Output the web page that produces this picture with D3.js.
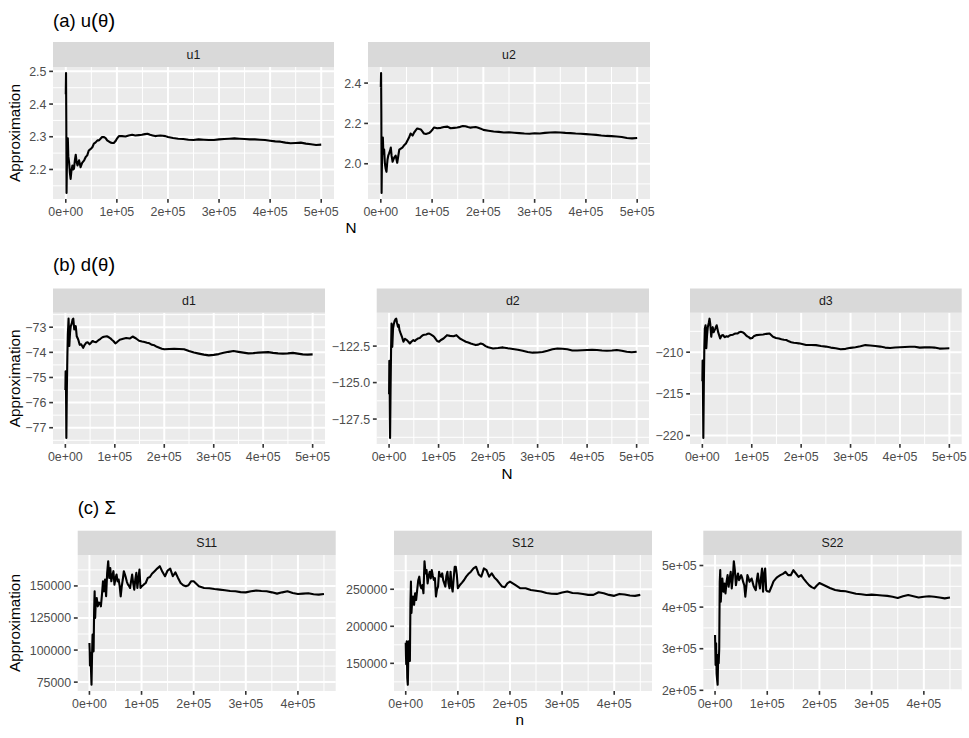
<!DOCTYPE html>
<html><head><meta charset="utf-8">
<script src="https://cdn.jsdelivr.net/npm/d3@7"></script>
<style>body{margin:0;background:#fff}svg{display:block}</style>
</head><body><svg id="chart" width="969" height="738"></svg>
<script>
// ---------- DATA ----------
// N (thousands) for rows (a) and (b)
const nAB = [0,0.5,1,1.5,2,3,4,5,
  6.5,8,9.5,11,13,14.5,16,18,19.5,21,23,
  26,29,32,36,39,42,45,49,52,55,58,62,65,68,71,75,78,81,84,88,91,94,97,101,104,
  110,117,123,130,136,143,149,155,
  160,165,170,175,180,185,190,195,200,
  210,220,230,240,250,260,270,280,290,300,310,320,330,340,350,360,370,380,390,400,410,420,430,440,450,460,470,480,490,500];
const u1 = [2.43,2.495,2.35,2.128,2.19,2.26,2.295,2.24,
  2.222,2.19,2.171,2.195,2.212,2.20,2.202,2.23,2.245,2.225,2.212,
  2.228,2.207,2.22,2.228,2.238,2.243,2.258,2.263,2.268,2.279,2.282,2.289,2.289,2.294,2.299,2.299,2.296,2.289,2.286,2.282,2.281,2.281,2.286,2.296,2.302,
  2.302,2.301,2.304,2.306,2.304,2.305,2.306,2.308,
  2.309,2.306,2.304,2.302,2.303,2.304,2.303,2.302,2.299,
  2.296,2.294,2.293,2.291,2.290,2.292,2.291,2.290,2.290,2.292,
  2.293,2.294,2.295,2.294,2.293,2.292,2.292,2.291,2.290,2.288,
  2.286,2.285,2.282,2.280,2.281,2.282,2.279,2.277,2.275,2.276];
const u2 = [2.38,2.45,2.25,1.855,1.97,2.08,2.13,2.05,
  2.07,2.00,1.975,1.96,2.02,2.04,2.05,2.065,2.08,2.04,2.01,
  2.03,2.04,2.005,2.07,2.075,2.08,2.09,2.10,2.115,2.13,2.15,2.14,2.155,2.165,2.175,2.172,2.17,2.16,2.15,2.148,2.15,2.152,2.158,2.17,2.18,
  2.176,2.178,2.182,2.184,2.176,2.178,2.18,2.183,
  2.187,2.186,2.182,2.179,2.181,2.182,2.178,2.174,2.168,
  2.164,2.16,2.158,2.155,2.156,2.154,2.152,2.15,2.149,2.151,
  2.15,2.153,2.155,2.156,2.155,2.153,2.152,2.15,2.149,2.147,
  2.145,2.143,2.14,2.138,2.137,2.135,2.133,2.128,2.126,2.128];
const d1 = [-75.5,-74.75,-74.8,-76.0,-77.41,-75.5,-74.2,-73.3,
  -72.66,-73.75,-73.2,-72.96,-72.85,-72.7,-72.66,-73.09,-72.95,-72.96,-73.36,
  -73.49,-73.7,-73.68,-73.82,-73.7,-73.62,-73.6,-73.68,-73.62,-73.55,-73.58,-73.6,-73.55,-73.5,-73.46,-73.4,-73.38,-73.37,-73.36,-73.4,-73.44,-73.5,-73.55,-73.64,-73.6,
  -73.5,-73.46,-73.43,-73.45,-73.37,-73.45,-73.54,-73.57,
  -73.59,-73.62,-73.64,-73.7,-73.72,-73.78,-73.82,-73.86,-73.88,
  -73.87,-73.86,-73.87,-73.88,-73.95,-74.01,-74.05,-74.09,-74.12,-74.1,
  -74.07,-74.02,-73.98,-73.95,-73.98,-74.01,-74.04,-74.03,-74.01,-74.0,
  -73.99,-74.02,-74.04,-74.05,-74.04,-74.02,-74.05,-74.08,-74.09,-74.08];
const d2 = [-125.8,-123.5,-124.2,-127.0,-128.8,-125.5,-122.8,-120.95,
  -122.55,-121.3,-121.0,-120.8,-120.65,-120.62,-120.9,-121.18,-121.05,-121.41,-121.6,
  -121.86,-122.2,-122.0,-122.09,-122.2,-122.32,-122.2,-122.09,-122.15,-122.05,-121.98,-121.95,-121.85,-121.75,-121.72,-121.7,-121.66,-121.64,-121.7,-121.78,-121.86,-122.0,-122.15,-122.2,-122.1,
  -121.98,-121.75,-121.8,-121.82,-121.75,-121.98,-122.09,-122.2,
  -122.25,-122.32,-122.38,-122.43,-122.4,-122.32,-122.38,-122.5,-122.58,
  -122.66,-122.63,-122.59,-122.65,-122.7,-122.75,-122.82,-122.9,-122.95,-122.94,
  -122.9,-122.82,-122.72,-122.66,-122.68,-122.72,-122.8,-122.8,-122.78,-122.77,
  -122.76,-122.77,-122.8,-122.82,-122.8,-122.77,-122.82,-122.89,-122.92,-122.89];
const d3v = [-213.5,-211.0,-212.0,-216.5,-220.3,-214.0,-209.5,-207.2,
  -206.77,-209.53,-208.0,-207.0,-206.5,-205.98,-206.6,-208.15,-207.4,-207.0,-207.6,
  -207.2,-206.77,-207.6,-208.35,-208.0,-207.95,-208.2,-208.1,-208.15,-208.0,-207.95,-207.9,-207.8,-207.76,-207.76,-207.6,-207.56,-207.6,-207.7,-207.95,-208.1,-208.2,-208.35,-208.3,-208.1,
  -207.95,-207.9,-207.87,-207.8,-207.76,-208.15,-208.3,-208.35,
  -208.45,-208.5,-208.54,-208.7,-208.8,-208.86,-208.9,-208.94,-209.0,
  -209.13,-209.13,-209.15,-209.25,-209.33,-209.45,-209.53,-209.65,-209.6,-209.48,
  -209.41,-209.3,-209.15,-209.2,-209.25,-209.33,-209.45,-209.5,-209.43,-209.41,
  -209.38,-209.35,-209.35,-209.45,-209.42,-209.4,-209.45,-209.57,-209.55,-209.53];

// n (thousands) for row (c)
const nC = [0,0.5,1,1.5,2,2.5,3,
  4,5,6,7,8,9,10,11,12,
  14,16,18,20,22,24,26,28,30,32,34,36,38,40,42,44,46,48,50,52,54,56,58,60,62,64,66,68,70,72,74,76,78,80,82,84,86,88,90,92,94,96,98,100,
  104,108,112,116,120,
  125,130,135,140,145,150,155,160,165,170,175,180,185,190,195,200,
  210,220,230,240,250,260,270,280,290,300,310,320,330,340,350,360,370,380,390,400,410,420,430,440,450];
const S11 = [105500,100000,88000,92000,98000,97000,85000,
  72900,95000,112000,105000,99000,130000,145800,125000,136000,
  140600,134100,137000,136700,134100,143000,153600,145800,155000,142000,
  160000,169300,156250,164000,153600,158000,161500,151000,156000,158900,
  153600,155000,150000,141900,149700,155000,161500,159000,156250,153000,
  151000,150000,148400,154000,158900,152000,147100,155000,160200,148400,
  156000,162800,148400,149500,
  151000,152300,156250,157000,159500,
  161500,163500,165400,161000,157550,162000,163500,157550,160500,156250,152300,150500,149700,150500,153600,153600,
  149700,148400,148200,147600,147100,146600,146000,145800,145200,145000,
  145800,146400,146000,145800,145000,144000,145000,145800,144500,143700,
  144000,144300,143500,143200,143700];
const S12 = [177700,160000,148700,165000,179900,150000,130000,
  121000,160000,179900,165000,153100,230000,260300,217900,230000,
  240200,229000,244600,235700,249100,262000,267000,255000,251300,255800,
  244600,287900,271400,275900,258000,268000,273700,264700,275900,268000,
  262500,265000,240200,250000,253600,273700,268000,267000,271400,262000,
  258000,253600,268000,273700,258000,251300,273700,255000,246900,265000,
  280400,280400,270000,251300,
  255800,259000,262500,267000,270500,
  273700,278100,280400,270000,267000,278100,275900,267000,271400,266000,262500,258000,253600,252700,258000,260300,
  255800,251300,251300,249100,248000,246900,245000,244000,243700,245500,
  246900,245000,244600,243500,242400,242400,246000,244600,242400,241100,
  243700,243000,241500,241100,242400];
const S22 = [333000,300000,261100,290000,313000,280000,240000,
  225000,213200,285100,265100,300000,460000,488800,412900,440000,
  468800,436900,456900,432900,460000,476800,448900,468800,484800,444900,
  470000,510400,488800,452900,470000,480800,464800,470000,476800,470000,
  460000,452900,424900,450000,476800,470000,460800,464800,468800,460000,
  450000,445000,440900,465000,480800,460000,444900,470000,492800,436900,
  480000,492800,440900,438000,
  436900,448900,462000,468000,472800,
  476800,480000,484800,476800,476800,488800,480800,472800,476800,468000,460000,452900,448000,444900,452000,458000,
  452000,446000,441000,439000,438000,435000,432000,431000,429000,430000,
  429000,428000,427000,425000,422000,426000,429000,426000,423000,425000,
  426000,425000,423000,421000,423000];

// tick values and labels
const xTicksAB = [0,100,200,300,400,500];
const xLabelsAB = ["0e+00","1e+05","2e+05","3e+05","4e+05","5e+05"];
const xTicksC = [0,100,200,300,400];
const xLabelsC = ["0e+00","1e+05","2e+05","3e+05","4e+05"];
const u1Ticks = [2.2,2.3,2.4,2.5], u1Labels = ["2.2","2.3","2.4","2.5"];
const u2Ticks = [2.0,2.2,2.4], u2Labels = ["2.0","2.2","2.4"];
const d1Ticks = [-77,-76,-75,-74,-73], d1Labels = ["\u221277","\u221276","\u221275","\u221274","\u221273"];
const d2Ticks = [-127.5,-125,-122.5], d2Labels = ["\u2212127.5","\u2212125.0","\u2212122.5"];
const d3Ticks = [-220,-215,-210], d3Labels = ["\u2212220","\u2212215","\u2212210"];
const S11Ticks = [75000,100000,125000,150000], S11Labels = ["75000","100000","125000","150000"];
const S12Ticks = [150000,200000,250000], S12Labels = ["150000","200000","250000"];
const S22Ticks = [200000,300000,400000,500000], S22Labels = ["2e+05","3e+05","4e+05","5e+05"];

// row titles: [prefix, argument-in-parentheses or null]
const rowTitles = [["(a) u","\u03B8"], ["(b) d","\u03B8"], ["(c) \u03A3", null]];
const rowXTitles = ["N", "N", "n"];
const yTitle = "Approximation";

// ---------- LAYOUT ----------
const FONT = '"Liberation Sans", Arial, Helvetica, sans-serif';
const rowsLayout = [
  {stripTop:42, top:67, bottom:199, titleX:53, titleY:27, xtX:351, xtY:233},
  {stripTop:288.5, top:312.7, bottom:444, titleX:53, titleY:271, xtX:507, xtY:479},
  {stripTop:530.7, top:555, bottom:691, titleX:77.7, titleY:514, xtX:519.7, xtY:725}
];
const panels = [
  {name:"u1", row:0, n:nAB, v:u1, yt:u1Ticks, yl:u1Labels, xt:xTicksAB, xl:xLabelsAB, left:53, right:334},
  {name:"u2", row:0, n:nAB, v:u2, yt:u2Ticks, yl:u2Labels, xt:xTicksAB, xl:xLabelsAB, left:368, right:650},
  {name:"d1", row:1, n:nAB, v:d1, yt:d1Ticks, yl:d1Labels, xt:xTicksAB, xl:xLabelsAB, left:53, right:325},
  {name:"d2", row:1, n:nAB, v:d2, yt:d2Ticks, yl:d2Labels, xt:xTicksAB, xl:xLabelsAB, left:376.7, right:649},
  {name:"d3", row:1, n:nAB, v:d3v, yt:d3Ticks, yl:d3Labels, xt:xTicksAB, xl:xLabelsAB, left:690, right:961.7},
  {name:"S11", row:2, n:nC, v:S11, yt:S11Ticks, yl:S11Labels, xt:xTicksC, xl:xLabelsC, left:77.7, right:335.7},
  {name:"S12", row:2, n:nC, v:S12, yt:S12Ticks, yl:S12Labels, xt:xTicksC, xl:xLabelsC, left:394, right:652},
  {name:"S22", row:2, n:nC, v:S22, yt:S22Ticks, yl:S22Labels, xt:xTicksC, xl:xLabelsC, left:703.3, right:961.7}
];

const svg = d3.select("#chart");
svg.append("rect").attr("width",969).attr("height",738).attr("fill","#fff");

function expand(arr){ const e=d3.extent(arr); const p=(e[1]-e[0])*0.05; return [e[0]-p, e[1]+p]; }
function minors(ticks, dom){
  const step = ticks[1]-ticks[0], res=[];
  for(let i=-1;i<ticks.length;i++){ const m=ticks[0]+(i+0.5)*step; if(m>dom[0]&&m<dom[1]) res.push(m); }
  return res;
}

panels.forEach(p=>{
  const R = rowsLayout[p.row];
  const x = d3.scaleLinear().domain(expand(p.n)).range([p.left,p.right]);
  const y = d3.scaleLinear().domain(expand(p.v)).range([R.bottom,R.top]);
  const g = svg.append("g");
  g.append("rect").attr("x",p.left).attr("y",R.top).attr("width",p.right-p.left).attr("height",R.bottom-R.top).attr("fill","#EBEBEB");
  minors(p.xt, x.domain()).forEach(m=>g.append("line").attr("x1",x(m)).attr("x2",x(m)).attr("y1",R.top).attr("y2",R.bottom).attr("stroke","#fff").attr("stroke-width",1));
  minors(p.yt, y.domain()).forEach(m=>g.append("line").attr("y1",y(m)).attr("y2",y(m)).attr("x1",p.left).attr("x2",p.right).attr("stroke","#fff").attr("stroke-width",1));
  p.xt.forEach(t=>g.append("line").attr("x1",x(t)).attr("x2",x(t)).attr("y1",R.top).attr("y2",R.bottom).attr("stroke","#fff").attr("stroke-width",2));
  p.yt.forEach(t=>g.append("line").attr("y1",y(t)).attr("y2",y(t)).attr("x1",p.left).attr("x2",p.right).attr("stroke","#fff").attr("stroke-width",2));
  const line = d3.line().x((d,i)=>x(p.n[i])).y(d=>y(d));
  g.append("path").datum(p.v).attr("d",line).attr("fill","none").attr("stroke","#000").attr("stroke-width",2.1).attr("stroke-linejoin","round").attr("stroke-linecap","butt");
  p.xt.forEach((t,i)=>{
    g.append("line").attr("x1",x(t)).attr("x2",x(t)).attr("y1",R.bottom).attr("y2",R.bottom+3.8).attr("stroke","#333").attr("stroke-width",1.6);
    g.append("text").attr("x",x(t)).attr("y",R.bottom+16.5).attr("text-anchor","middle").attr("font-family",FONT).attr("font-size",12.4).attr("fill","#4D4D4D").text(p.xl[i]);
  });
  p.yt.forEach((t,i)=>{
    g.append("line").attr("x1",p.left-3.8).attr("x2",p.left).attr("y1",y(t)).attr("y2",y(t)).attr("stroke","#333").attr("stroke-width",1.6);
    g.append("text").attr("x",p.left-6.6).attr("y",y(t)).attr("dy","0.36em").attr("text-anchor","end").attr("font-family",FONT).attr("font-size",12.4).attr("fill","#4D4D4D").text(p.yl[i]);
  });
  g.append("rect").attr("x",p.left).attr("y",R.stripTop).attr("width",p.right-p.left).attr("height",R.top-R.stripTop).attr("fill","#D9D9D9");
  g.append("text").attr("x",(p.left+p.right)/2).attr("y",(R.stripTop+R.top)/2).attr("dy","0.36em").attr("text-anchor","middle").attr("font-family",FONT).attr("font-size",12.4).attr("fill","#1A1A1A").text(p.name);
});

rowsLayout.forEach((R,i)=>{
  const t = svg.append("text").attr("x",R.titleX).attr("y",R.titleY).attr("font-family",FONT).attr("font-size",18.5).attr("fill","#000");
  t.append("tspan").text(rowTitles[i][0]);
  if(rowTitles[i][1]){
    t.append("tspan").attr("font-size",21).attr("dy",1).text("(");
    t.append("tspan").attr("font-size",18.5).attr("dy",-1).text(rowTitles[i][1]);
    t.append("tspan").attr("font-size",21).attr("dy",1).text(")");
  }
  svg.append("text").attr("x",R.xtX).attr("y",R.xtY).attr("text-anchor","middle").attr("font-family",FONT).attr("font-size",15.3).attr("fill","#000").text(rowXTitles[i]);
  const cy=(R.top+R.bottom)/2;
  svg.append("text").attr("transform",`translate(20,${cy}) rotate(-90)`).attr("text-anchor","middle").attr("font-family",FONT).attr("font-size",15.3).attr("fill","#000").text(yTitle);
});
</script></body></html>
